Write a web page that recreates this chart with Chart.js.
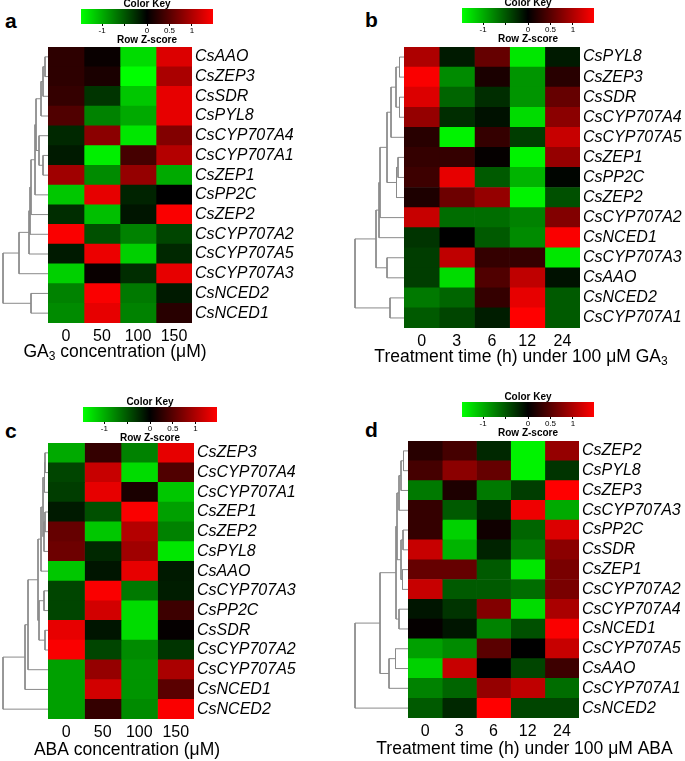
<!DOCTYPE html>
<html lang="en">
<head>
  <meta charset="UTF-8">
  <title>Heatmaps of ABA-related genes</title>
  <style>
    body { margin: 0; background: #fff; }
    #page { position: relative; width: 685px; height: 761px; font-family: "Liberation Sans", Arial, sans-serif; }
    canvas { position: absolute; }
    .tag { position: absolute; font-weight: bold; font-size: 21px; line-height: 21px; }
  </style>
  <script src="https://cdn.jsdelivr.net/npm/chart.js"></script>
</head>
<body>
<div id="page">
  <div class="tag" style="left:5px;top:10px">a</div>
  <div class="tag" style="left:365px;top:9px">b</div>
  <div class="tag" style="left:5px;top:420px">c</div>
  <div class="tag" style="left:365px;top:419px">d</div>
</div>
<script>
  const FAMILY = '"Liberation Sans", Arial, sans-serif';
  Chart.defaults.font.family = FAMILY;

  // colour key
  const keyRange = [-1.47, 1.47];
  const keyTicks = [-1, -0.5, 0, 0.5, 1];
  const keyLabels = ['-1', '', '0', '0.5', '1'];

  // a) GA3 concentration
  const colsA = ['0', '50', '100', '150'];
  const genesA = ['CsAAO', 'CsZEP3', 'CsSDR', 'CsPYL8', 'CsCYP707A4', 'CsCYP707A1', 'CsZEP1',
    'CsPP2C', 'CsZEP2', 'CsCYP707A2', 'CsCYP707A5', 'CsCYP707A3', 'CsNCED2', 'CsNCED1'];
  const zA = [
    [0.26, 0.05, -1.27, 1.27],
    [0.26, 0.15, -1.47, 0.98],
    [0.3, -0.3, -1.15, 1.33],
    [0.46, -0.75, -0.98, 1.33],
    [-0.23, 0.8, -1.33, 0.75],
    [-0.15, -1.38, 0.4, 1.04],
    [0.92, -0.8, 0.86, -0.98],
    [-1.15, 1.33, -0.2, 0],
    [-0.26, -1.1, -0.12, 1.44],
    [1.44, -0.46, -0.75, -0.4],
    [-0.15, 1.36, -1.2, -0.23],
    [-1.2, 0.05, -0.26, 1.33],
    [-0.75, 1.44, -0.7, -0.15],
    [-0.8, 1.33, -0.75, 0.23]
  ];
  // merges: [left, right, height]; negative = leaf row (1-based), positive = earlier merge
  const treeA = [
    [-1, -2, 3], [1, -3, 5], [2, -4, 7], [-6, -7, 5], [-5, 4, 9], [3, 5, 12],
    [6, -8, 13], [7, -9, 17], [8, -10, 18], [9, -11, 19], [10, -12, 29],
    [-13, -14, 17], [11, 12, 45]
  ];

  // b) time under 100 uM GA3
  const colsB = ['0', '3', '6', '12', '24'];
  const genesB = ['CsPYL8', 'CsZEP3', 'CsSDR', 'CsCYP707A4', 'CsCYP707A5', 'CsZEP1', 'CsPP2C',
    'CsZEP2', 'CsCYP707A2', 'CsNCED1', 'CsCYP707A3', 'CsAAO', 'CsNCED2', 'CsCYP707A1'];
  const zB = [
    [1.0, -0.15, 0.58, -1.33, -0.15],
    [1.44, -0.8, 0.15, -0.86, 0.23],
    [1.27, -0.58, -0.26, -0.86, 0.58],
    [0.86, -0.26, -0.1, -1.27, 0.8],
    [0.23, -1.4, 0.3, -0.35, 1.15],
    [0.3, 0.3, 0.03, -1.4, 0.86],
    [0.35, 1.33, -0.52, -1.04, -0.03],
    [0.17, 0.63, 0.86, -1.4, -0.46],
    [1.15, -0.63, -0.63, -0.75, 0.75],
    [-0.3, 0, -0.52, -0.8, 1.44],
    [-0.35, 1.1, 0.3, 0.3, -1.33],
    [-0.35, -1.27, 0.46, 1.1, -0.1],
    [-0.7, -0.58, 0.3, 1.33, -0.52],
    [-0.52, -0.4, -0.17, 1.47, -0.52]
  ];
  const treeB = [
    [-1, -2, 4.5], [-3, -4, 4.5], [1, 2, 8], [3, -5, 13], [-6, -7, 6], [5, -8, 7.5],
    [4, 6, 17], [7, -9, 24], [8, -10, 25], [-11, -12, 17], [9, 10, 28],
    [-13, -14, 14], [11, 12, 49]
  ];

  // c) ABA concentration
  const colsC = ['0', '50', '100', '150'];
  const genesC = ['CsZEP3', 'CsCYP707A4', 'CsCYP707A1', 'CsZEP1', 'CsZEP2', 'CsPYL8', 'CsAAO',
    'CsCYP707A3', 'CsPP2C', 'CsSDR', 'CsCYP707A2', 'CsCYP707A5', 'CsNCED1', 'CsNCED2'];
  const zC = [
    [-0.98, 0.3, -0.75, 1.33],
    [-0.4, 1.15, -1.27, 0.46],
    [-0.35, 1.33, 0.15, -1.15],
    [-0.15, -0.46, 1.44, -0.92],
    [0.58, -1.15, 1.04, -0.75],
    [0.63, -0.23, 0.92, -1.33],
    [-1.15, -0.12, 1.33, -0.15],
    [-0.4, 1.44, -0.7, -0.17],
    [-0.4, 1.21, -1.27, 0.35],
    [1.33, -0.12, -1.27, 0.03],
    [1.44, -0.4, -0.8, -0.3],
    [-0.92, 0.86, -0.86, 0.98],
    [-0.92, 1.21, -0.86, 0.52],
    [-0.92, 0.3, -0.8, 1.44]
  ];
  const treeC = [
    [-1, -2, 3], [1, -3, 3.5], [-4, -5, 3], [3, -6, 4], [2, 4, 5], [5, -7, 7],
    [-8, -9, 4], [-10, -11, 3], [7, 8, 9], [6, 9, 10], [10, -12, 20],
    [11, -13, 23], [12, -14, 45]
  ];

  // d) time under 100 uM ABA
  const colsD = ['0', '3', '6', '12', '24'];
  const genesD = ['CsZEP2', 'CsPYL8', 'CsZEP3', 'CsCYP707A3', 'CsPP2C', 'CsSDR', 'CsZEP1',
    'CsCYP707A2', 'CsCYP707A4', 'CsNCED1', 'CsCYP707A5', 'CsAAO', 'CsCYP707A1', 'CsNCED2'];
  const zD = [
    [0.23, 0.4, -0.23, -1.4, 0.86],
    [0.4, 0.8, 0.58, -1.4, -0.3],
    [-0.7, 0.17, -0.7, -0.35, 1.47],
    [0.3, -0.52, -0.2, 1.38, -0.98],
    [0.3, -1.21, 0.09, -0.58, 1.27],
    [1.15, -1.04, -0.2, -0.7, 0.8],
    [0.58, 0.58, -0.52, -1.33, 0.7],
    [1.15, -0.52, -0.52, -0.63, 0.7],
    [-0.12, -0.3, 0.75, -1.27, 0.98],
    [0.03, -0.12, -0.75, -0.46, 1.44],
    [-0.92, -0.8, 0.52, 0, 1.15],
    [-1.21, 1.15, 0, -0.4, 0.35],
    [-0.75, -0.58, 0.86, 1.1, -0.63],
    [-0.52, -0.23, 1.47, -0.4, -0.4]
  ];
  const treeD = [
    [-1, -2, 4.5], [1, -3, 7], [2, -4, 9], [-5, -6, 5], [-7, -8, 5.5], [4, 5, 7],
    [3, 6, 11], [-9, -10, 9], [7, 8, 12], [-11, -12, 12.5], [10, -13, 19],
    [9, 11, 28], [12, -14, 53]
  ];

  function zColor(z) {
    const t = Math.max(-1, Math.min(1, z / keyRange[1]));
    return t < 0 ? `rgb(0,${Math.round(-t * 255)},0)` : `rgb(${Math.round(t * 255)},0,0)`;
  }

  // x axis caption with a real subscript, placed relative to the heatmap
  const axisCaption = {
    id: 'axisCaption',
    afterDraw(chart, args, opts) {
      if (!opts.parts) return;
      const c = chart.ctx, a = chart.chartArea;
      const big = '17.5px ' + FAMILY, small = '12px ' + FAMILY;
      let w = 0;
      opts.parts.forEach(p => { c.font = p.sub ? small : big; w += c.measureText(p.t).width; });
      let x = (a.left + a.right) / 2 + opts.dx - w / 2;
      const y = a.bottom + opts.dy;
      c.save();
      c.fillStyle = '#000';
      c.textBaseline = 'middle';
      opts.parts.forEach(p => {
        c.font = p.sub ? small : big;
        c.fillText(p.t, x, p.sub ? y + 5 : y);
        x += c.measureText(p.t).width;
      });
      c.restore();
    }
  };

  function addCanvas(left, top, w, h) {
    const cv = document.createElement('canvas');
    cv.width = w; cv.height = h;
    cv.style.left = left + 'px'; cv.style.top = top + 'px';
    cv.style.width = w + 'px'; cv.style.height = h + 'px';
    document.getElementById('page').appendChild(cv);
    return cv;
  }

  function treeSegments(merges) {
    const pos = [], hgt = [];
    const get = id => id < 0 ? { y: -id - 1, h: 0 } : { y: pos[id - 1], h: hgt[id - 1] };
    return merges.map(([a, b, h], k) => {
      const A = get(a), B = get(b);
      pos[k] = (A.y + B.y) / 2;
      hgt[k] = h;
      return [{ x: A.h, y: A.y }, { x: h, y: A.y }, { x: h, y: B.y }, { x: B.h, y: B.y }];
    });
  }

  const MARGIN = 45; // room left of the heatmap for the caption

  function panel(p) {
    // heatmap: one stacked dataset per column
    const cv = addCanvas(p.heat[0] - MARGIN, p.heat[1], MARGIN + p.heat[2] + p.labelW, p.heat[3] + 45);
    new Chart(cv, {
      type: 'bar',
      data: {
        labels: p.genes,
        datasets: p.cols.map((c, j) => ({
          label: c,
          data: p.genes.map(() => 1),
          backgroundColor: p.z.map(r => zColor(r[j])),
          borderWidth: 0,
          barPercentage: 1,
          categoryPercentage: 1
        }))
      },
      options: {
        indexAxis: 'y',
        responsive: false,
        animation: false,
        layout: { padding: { left: MARGIN, top: 0, right: 0, bottom: 0 } },
        plugins: {
          legend: { display: false },
          tooltip: { enabled: false },
          axisCaption: { parts: p.caption, dx: p.dx, dy: p.dy }
        },
        scales: {
          x: {
            type: 'linear', stacked: true, min: 0, max: p.cols.length,
            grid: { display: false, drawTicks: false }, border: { display: false },
            afterBuildTicks: s => { s.ticks = p.cols.map((c, i) => ({ value: i + 0.5 })); },
            afterFit: s => { s.height = 45; s.paddingLeft = 0; s.paddingRight = 0; },
            ticks: { padding: 4, autoSkip: false, maxRotation: 0, color: '#000',
              font: { size: 16 }, callback: (v, i) => p.cols[i] }
          },
          y: {
            type: 'category', stacked: true, position: 'right',
            grid: { display: false, drawTicks: false }, border: { display: false },
            afterFit: s => { s.width = p.labelW; s.paddingTop = 0; s.paddingBottom = 0; },
            ticks: { padding: 3, autoSkip: false, color: '#000',
              font: { size: 16, style: 'italic' } }
          }
        }
      },
      plugins: [axisCaption]
    });

    // dendrogram
    const root = p.tree[p.tree.length - 1][2];
    const dw = p.heat[0] - p.dendroLeft + 2;
    const dv = addCanvas(p.dendroLeft - 2, p.heat[1], dw, p.heat[3]);
    new Chart(dv, {
      type: 'scatter',
      data: {
        datasets: treeSegments(p.tree).map(pts => ({
          data: pts, showLine: true, borderColor: '#8a8a8a', borderWidth: 1,
          pointRadius: 0, tension: 0, clip: false
        }))
      },
      options: {
        responsive: false,
        animation: false,
        layout: { padding: { left: 2 } },
        plugins: { legend: { display: false }, tooltip: { enabled: false } },
        scales: {
          x: { type: 'linear', display: false, min: 0, max: root, reverse: true },
          y: { type: 'linear', display: false, min: -0.5, max: p.genes.length - 0.5, reverse: true }
        }
      }
    });

    // colour key
    const kv = addCanvas(p.key[0] - 15, p.key[1] - 10, p.key[2] + 30, 47);
    new Chart(kv, {
      type: 'bar',
      data: {
        labels: ['z'],
        datasets: [{
          data: [keyRange],
          borderWidth: 0,
          barPercentage: 1,
          categoryPercentage: 1,
          backgroundColor: ctx => {
            const a = ctx.chart.chartArea;
            if (!a) return '#000';
            const g = ctx.chart.ctx.createLinearGradient(a.left, 0, a.right, 0);
            g.addColorStop(0, 'rgb(0,255,0)');
            g.addColorStop(0.5, 'rgb(0,0,0)');
            g.addColorStop(1, 'rgb(255,0,0)');
            return g;
          }
        }]
      },
      options: {
        indexAxis: 'y',
        responsive: false,
        animation: false,
        layout: { padding: { left: 15, right: 15 } },
        plugins: {
          legend: { display: false },
          tooltip: { enabled: false },
          title: { display: true, text: 'Color Key', color: '#000', padding: 0,
            font: { size: 10, weight: 'bold', lineHeight: 1 } }
        },
        scales: {
          x: {
            type: 'linear', min: keyRange[0], max: keyRange[1],
            grid: { drawOnChartArea: false, tickLength: 2, color: '#000' },
            border: { display: false },
            afterBuildTicks: s => { s.ticks = keyTicks.map(v => ({ value: v })); },
            afterFit: s => { s.height = 22; },
            ticks: { padding: 0, autoSkip: false, maxRotation: 0, color: '#000',
              font: { size: 8 }, callback: (v, i) => keyLabels[i] },
            title: { display: true, text: 'Row Z-score', color: '#000', padding: 0,
              font: { size: 10, weight: 'bold' } }
          },
          y: { display: false }
        }
      }
    });
  }

  panel({ genes: genesA, cols: colsA, z: zA, tree: treeA,
    heat: [48, 47, 144, 276], labelW: 140, dendroLeft: 3, key: [81, 9, 132],
    caption: [{ t: 'GA' }, { t: '3', sub: true }, { t: ' concentration (μM)' }], dx: -5, dy: 29 });
  panel({ genes: genesB, cols: colsB, z: zB, tree: treeB,
    heat: [404, 47, 176, 281], labelW: 105, dendroLeft: 355, key: [462, 8, 132],
    caption: [{ t: 'Treatment time (h) under 100 μM GA' }, { t: '3', sub: true }], dx: 29, dy: 29 });
  panel({ genes: genesC, cols: colsC, z: zC, tree: treeC,
    heat: [48, 443, 146, 276], labelW: 140, dendroLeft: 3, key: [83, 407, 134],
    caption: [{ t: 'ABA concentration (μM)' }], dx: 6, dy: 31 });
  panel({ genes: genesD, cols: colsD, z: zD, tree: treeD,
    heat: [408, 441, 171, 277], labelW: 106, dendroLeft: 355, key: [462, 402, 132],
    caption: [{ t: 'Treatment time (h) under 100 μM ABA' }], dx: 31, dy: 31 });
</script>
</body>
</html>
